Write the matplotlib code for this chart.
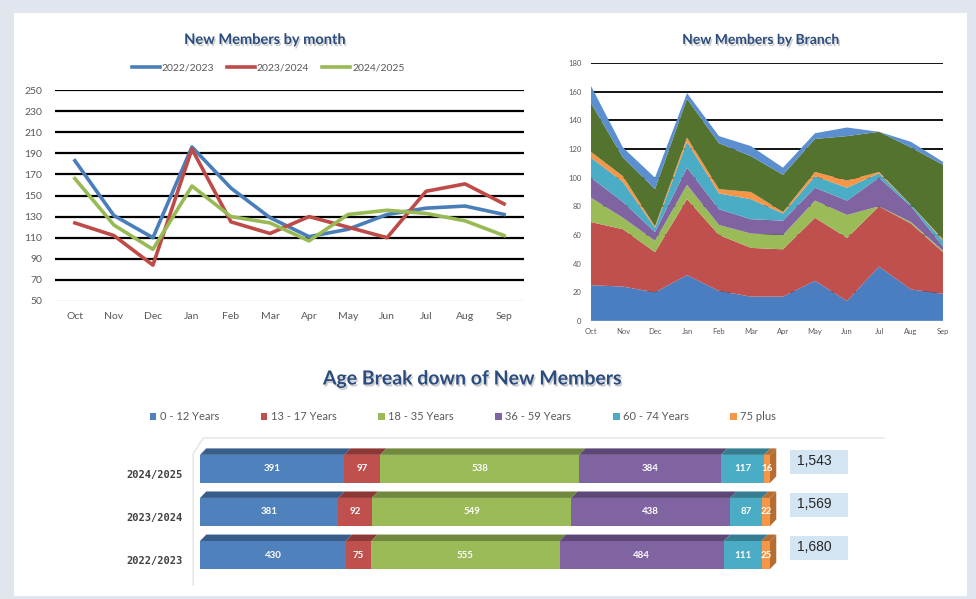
import numpy as np
import matplotlib.pyplot as plt
import matplotlib.patheffects as pe
from matplotlib.patches import Rectangle, Polygon

plt.rcParams['font.family'] = ['Lato', 'DejaVu Sans']

months = ['Oct', 'Nov', 'Dec', 'Jan', 'Feb', 'Mar', 'Apr', 'May', 'Jun', 'Jul', 'Aug', 'Sep']

# new members by month
m_2223 = [183, 131, 110, 196, 157, 129, 111, 118, 132, 138, 140, 132]
m_2324 = [124, 112, 84, 194, 125, 114, 130, 120, 110, 154, 161, 142]
m_2425 = [166, 122, 99, 159, 130, 124, 107, 132, 136, 133, 126, 112]

# new members by branch (stacked, bottom to top)
br_1 = [25, 24, 20, 32, 21, 17, 17, 28, 14, 38, 22, 19]
br_2 = [44, 40, 28, 53, 39, 34, 33, 44, 44, 42, 46, 29]
br_3 = [17, 8, 8, 10, 7, 10, 10, 12, 16, 0, 1, 1]
br_4 = [14, 11, 6, 12, 11, 10, 10, 9, 10, 20, 11, 3]
br_5 = [14, 14, 3, 18, 11, 14, 5, 8, 9, 3, 1, 4]
br_6 = [4, 4, 1, 3, 3, 5, 1, 3, 5, 1, 0, 1]
br_7 = [34, 13, 26, 27, 32, 25, 26, 23, 31, 28, 40, 52]
br_8 = [12, 7, 8, 4, 5, 7, 5, 4, 6, 0, 4, 2]

# age break down
years = ['2022/2023', '2023/2024', '2024/2025']
age_groups = ['0 - 12 Years', '13 - 17 Years', '18 - 35 Years', '36 - 59 Years', '60 - 74 Years', '75 plus']
age_2223 = [430, 75, 555, 484, 111, 25]
age_2324 = [381, 92, 549, 438, 87, 22]
age_2425 = [391, 97, 538, 384, 117, 16]

W, H = 976, 599
fig = plt.figure(figsize=(W / 100, H / 100), dpi=100, facecolor='#e1e6ee')


def box(x0, y0, x1, y1):
    # pixel box (top-left origin) -> figure fraction rect
    return [x0 / W, 1 - y1 / H, (x1 - x0) / W, (y1 - y0) / H]


fig.patches.append(Rectangle((14 / W, 1 - 596 / H), (967 - 14) / W, (596 - 13) / H,
                             transform=fig.transFigure, facecolor='white', edgecolor='none', zorder=-5))

title_color = '#2b4c7e'
shadow = [pe.withSimplePatchShadow(offset=(1, -1.5), shadow_rgbFace='#7f7f7f', alpha=0.4)]
tick_color = '#595959'

# ---- line chart ----
ax1 = fig.add_axes(box(55, 90, 524, 301))
ax1.patch.set_alpha(0)
x = np.arange(len(months))
ax1.plot(x, m_2223, color='#4a7ebb', lw=2.6, label='2022/2023')
ax1.plot(x, m_2324, color='#be4b48', lw=2.6, label='2023/2024')
ax1.plot(x, m_2425, color='#98b954', lw=2.6, label='2024/2025')
ax1.set_ylim(50, 250)
ax1.set_xlim(-0.51, 11.51)
ax1.set_yticks(range(50, 251, 20))
ax1.set_xticks(x)
ax1.set_xticklabels(months)
for v in range(70, 251, 20):
    ax1.axhline(v, color='black', lw=1.6, zorder=0)
for s in ax1.spines.values():
    s.set_visible(False)
ax1.axhline(50, color='#d9d9d9', lw=1, zorder=0)
ax1.tick_params(length=0, labelsize=7.5, colors=tick_color, pad=8)
ax1.tick_params(axis='y', pad=9)
fig.text(265 / W, 1 - 40 / H, 'New Members by month', ha='center', va='center',
         fontsize=10.5, fontweight='bold', color=title_color, path_effects=shadow)
fig.legend(*ax1.get_legend_handles_labels(), loc='center', bbox_to_anchor=(268 / W, 1 - 68 / H),
           ncol=3, frameon=False, fontsize=7.5, handlelength=2.7, handletextpad=0.2,
           columnspacing=1.2, labelcolor=tick_color)

# ---- area chart ----
ax2 = fig.add_axes(box(591, 63, 943, 321))
ax2.patch.set_alpha(0)
ax2.stackplot(x, br_1, br_2, br_3, br_4, br_5, br_6, br_7, br_8,
              colors=['#4a7ec0', '#c0504d', '#9bbb59', '#8064a2', '#4bacc6', '#f79646', '#54732f', '#5b8fd0'],
              zorder=2)
ax2.set_xlim(0, 11)
ax2.set_ylim(0, 180)
ax2.set_yticks(range(0, 181, 20))
ax2.set_xticks(x)
ax2.set_xticklabels(months)
for v in range(20, 181, 20):
    ax2.axhline(v, color='black', lw=1.3, zorder=1)
for s in ax2.spines.values():
    s.set_visible(False)
ax2.axhline(0, color='#d9d9d9', lw=1, zorder=3)
ax2.tick_params(length=0, labelsize=5.5, colors=tick_color, pad=5)
ax2.tick_params(axis='y', pad=7)
fig.text(761 / W, 1 - 40 / H, 'New Members by Branch', ha='center', va='center',
         fontsize=10, fontweight='bold', color=title_color, path_effects=shadow)

# ---- age break down ----
age_colors = ['#4f81bd', '#c0504d', '#9bbb59', '#8064a2', '#4bacc6', '#f79646']
top_colors = ['#385d8a', '#8c3836', '#71893f', '#5c4776', '#357d91', '#b66d31']
ax3 = fig.add_axes(box(200, 440, 770, 580))
ax3.set_xlim(0, 1)
ax3.set_ylim(-0.58, 2.67)
ax3.axis('off')
data = [age_2223, age_2324, age_2425]
bh = 0.65
dx, dy = 0.011, 0.15
for i, row in enumerate(data):
    tot = sum(row)
    left = 0
    for j, v in enumerate(row):
        w = v / tot
        ax3.barh(i, w, left=left, height=bh, color=age_colors[j], edgecolor='none', zorder=3,
                 label=age_groups[j] if i == 0 else None)
        top = i + bh / 2
        ax3.add_patch(Polygon([(left, top), (left + w, top), (left + w + dx, top + dy), (left + dx, top + dy)],
                              closed=True, facecolor=top_colors[j], edgecolor='none', zorder=3, clip_on=False))
        ax3.text(left + w / 2, i, str(v), ha='center', va='center', fontsize=7,
                 color='white', fontweight='bold', zorder=4)
        left += w
    # side face of the last segment
    ax3.add_patch(Polygon([(1, i - bh / 2), (1, i + bh / 2), (1 + dx, i + bh / 2 + dy), (1 + dx, i - bh / 2 + dy)],
                          closed=True, facecolor='#b66d31', edgecolor='none', zorder=3, clip_on=False))
    ax3.text(-0.03, i - 0.15, years[i], ha='right', va='center', fontsize=7.5, fontweight='bold',
             color='#404040', family='DejaVu Sans Mono')
    # total box
    ax3.add_patch(Rectangle((1.035, i + 0.16 - 0.28), 0.102, 0.56, facecolor='#d3e5f3',
                            edgecolor='none', clip_on=False))
    ax3.text(1.047, i + 0.18, f'{tot:,}', ha='left', va='center', fontsize=10, color='#262626',
             family='Liberation Sans')

# faint back wall outline
ax3.plot([-0.012, -0.012, 0.006, 1.2], [-0.7, 2.35, 2.72, 2.72], color='#e3e3e3', lw=1, clip_on=False, zorder=1)

fig.text(473 / W, 1 - 379 / H, 'Age Break down of New Members', ha='center', va='center',
         fontsize=14, fontweight='bold', color=title_color, path_effects=shadow)
h, l = ax3.get_legend_handles_labels()
fig.legend(h, l, loc='center', bbox_to_anchor=(463 / W, 1 - 417 / H), ncol=6, frameon=False,
           fontsize=8, handlelength=0.6, handleheight=0.6, handletextpad=0.3, columnspacing=3.75,
           labelcolor=tick_color)

fig.savefig('out.png', dpi=100, facecolor=fig.get_facecolor())
